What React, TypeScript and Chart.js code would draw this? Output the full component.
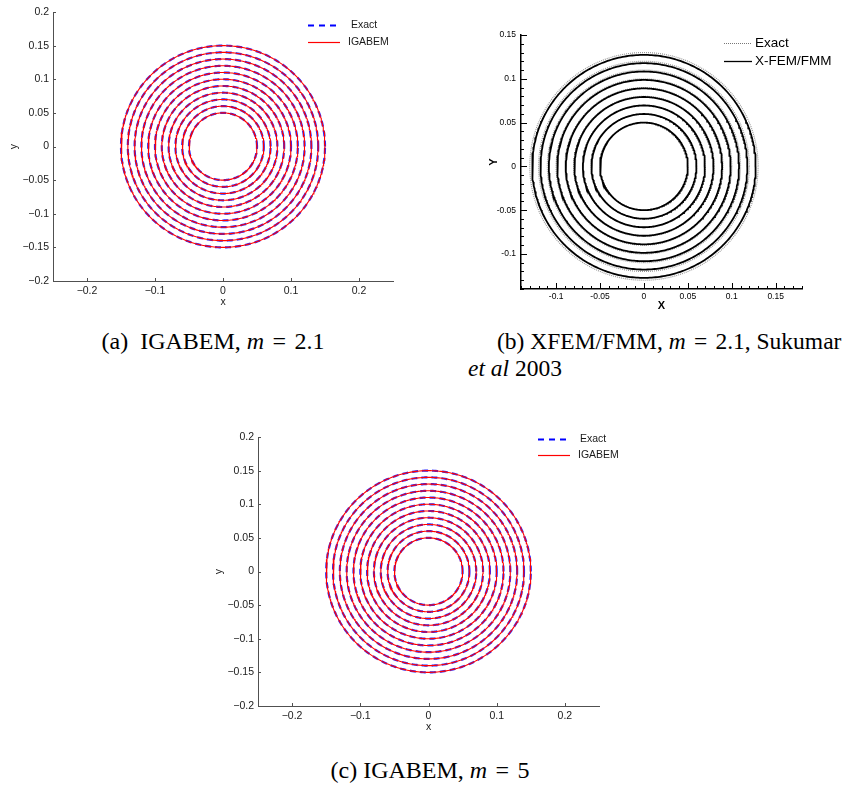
import React, { useEffect, useRef } from "react";
import { Chart, registerables } from "chart.js";

Chart.register(...registerables);

// ---------------- data ----------------
const radiiExactA = [0.05, 0.06, 0.07, 0.08, 0.09, 0.1, 0.11, 0.12, 0.13, 0.14, 0.15];
const radiiIgabemA = [0.05, 0.06, 0.07, 0.08, 0.09, 0.1, 0.11, 0.12, 0.13, 0.14, 0.15];
const radiiExactB = [0.05, 0.06, 0.07, 0.08, 0.09, 0.1, 0.11, 0.12, 0.13];
const radiiXfemB = [0.05, 0.0598, 0.0695, 0.0792, 0.089, 0.0987, 0.1083, 0.1178, 0.1273];
const radiiExactC = [0.05, 0.06, 0.07, 0.08, 0.09, 0.1, 0.11, 0.12, 0.13, 0.14, 0.15];
const radiiIgabemC = [0.05, 0.06, 0.07, 0.08, 0.09, 0.1, 0.11, 0.12, 0.13, 0.14, 0.15];

const ticksACX = [-0.2, -0.1, 0, 0.1, 0.2];
const ticksACY = [-0.2, -0.15, -0.1, -0.05, 0, 0.05, 0.1, 0.15, 0.2];
const ticksBX = [-0.1, -0.05, 0, 0.05, 0.1, 0.15];
const ticksBY = [-0.1, -0.05, 0, 0.05, 0.1, 0.15];
const minorBX = [-0.14, -0.13, -0.12, -0.11, -0.09, -0.08, -0.07, -0.06, -0.04, -0.03, -0.02, -0.01, 0.01, 0.02, 0.03, 0.04, 0.06, 0.07, 0.08, 0.09, 0.11, 0.12, 0.13, 0.14, 0.16, 0.17, 0.18];
const minorBY = [-0.14, -0.13, -0.12, -0.11, -0.09, -0.08, -0.07, -0.06, -0.04, -0.03, -0.02, -0.01, 0.01, 0.02, 0.03, 0.04, 0.06, 0.07, 0.08, 0.09, 0.11, 0.12, 0.13, 0.14];

const labelsAC = ["Exact", "IGABEM"];
const labelsB = ["Exact", "X-FEM/FMM"];

// ---------------- helpers ----------------
const ANGLE_STEPS = 360;
function circlePoints(radii: number[]) {
  const pts: any[] = [];
  radii.forEach((r) => {
    for (let k = 0; k <= ANGLE_STEPS; k++) {
      const t = (2 * Math.PI * k) / ANGLE_STEPS;
      pts.push({ x: r * Math.cos(t), y: r * Math.sin(t) });
    }
    pts.push({ x: null, y: null });
  });
  return pts;
}

const fmtMinus = (v: number) => {
  const s = String(Number(v.toFixed(3)));
  return s.replace("-", "\u2212");
};
const fmtHyphen = (v: number) => String(Number(v.toFixed(3)));

const inTicksPlugin = {
  id: "inTicks",
  afterDraw(chart: any, _args: any, opts: any) {
    const ctx = chart.ctx;
    const xs = chart.scales.x;
    const ys = chart.scales.y;
    const { left, bottom } = chart.chartArea;
    ctx.save();
    ctx.strokeStyle = opts.color;
    ctx.lineWidth = opts.width;
    ctx.beginPath();
    const drawX = (vals: number[], len: number) => {
      vals.forEach((v) => {
        const px = Math.round(xs.getPixelForValue(v)) + 0.5;
        ctx.moveTo(px, bottom);
        ctx.lineTo(px, bottom - len);
      });
    };
    const drawY = (vals: number[], len: number) => {
      vals.forEach((v) => {
        const py = Math.round(ys.getPixelForValue(v)) + 0.5;
        ctx.moveTo(left, py);
        ctx.lineTo(left + len, py);
      });
    };
    drawX(xs.ticks.map((t: any) => t.value), opts.major);
    drawY(ys.ticks.map((t: any) => t.value), opts.major);
    if (opts.minorX) drawX(opts.minorX, opts.minor);
    if (opts.minorY) drawY(opts.minorY, opts.minor);
    ctx.stroke();
    ctx.restore();
  },
};

const lineLegendPlugin = {
  id: "lineLegend",
  afterDraw(chart: any, _args: any, opts: any) {
    const ctx = chart.ctx;
    chart.data.datasets.forEach((ds: any, i: number) => {
      const y = opts.y + i * opts.dy;
      ctx.save();
      ctx.strokeStyle = opts.colors ? opts.colors[i] : ds.borderColor;
      ctx.lineWidth = opts.lineWidths ? opts.lineWidths[i] : ds.borderWidth;
      ctx.setLineDash(opts.dashes ? opts.dashes[i] : ds.borderDash || []);
      ctx.beginPath();
      ctx.moveTo(opts.x1, y + 0.5);
      ctx.lineTo(opts.x2, y + 0.5);
      ctx.stroke();
      ctx.setLineDash([]);
      ctx.fillStyle = opts.color;
      ctx.font = opts.font;
      ctx.textBaseline = "middle";
      ctx.textAlign = "left";
      ctx.fillText(ds.label, opts.tx[i], y);
      ctx.restore();
    });
  },
};

function makeAxis(o: any) {
  return {
    type: "linear",
    min: o.min,
    max: o.max,
    afterBuildTicks: (s: any) => {
      s.ticks = o.ticks.map((v: number) => ({ value: v }));
    },
    afterFit: (s: any) => {
      if (o.width !== undefined) s.width = o.width;
      if (o.height !== undefined) s.height = o.height;
    },
    grid: { display: false, drawTicks: false },
    border: { display: true, color: o.axisColor, width: o.axisWidth },
    ticks: {
      padding: o.tickPad,
      autoSkip: false,
      maxRotation: 0,
      color: o.labelColor,
      font: { family: "'Liberation Sans', Arial, sans-serif", size: o.fontSize },
      callback: (v: number) => o.fmt(v),
    },
    title: {
      display: true,
      text: o.title,
      color: o.labelColor,
      font: { family: "'Liberation Sans', Arial, sans-serif", size: o.titleSize, weight: o.titleWeight || "normal" },
      padding: o.titlePad,
    },
  };
}

function igabemConfig(exactR: number[], igaR: number[], legend: any) {
  return {
    type: "scatter",
    data: {
      datasets: [
        {
          label: labelsAC[0],
          data: circlePoints(exactR),
          showLine: true,
          spanGaps: false,
          borderColor: "#2a2aff",
          borderWidth: 2.2,
          borderDash: [6, 4],
          pointRadius: 0,
          order: 2,
        },
        {
          label: labelsAC[1],
          data: circlePoints(igaR),
          showLine: true,
          spanGaps: false,
          borderColor: "#ff0000",
          borderWidth: 1.1,
          pointRadius: 0,
          order: 1,
        },
      ],
    },
    options: {
      animation: false,
      responsive: false,
      layout: { padding: { top: 12, right: legend.padRight, left: 0, bottom: 0 } },
      scales: {
        x: makeAxis({
          min: -0.25, max: 0.25, ticks: ticksACX, height: 31, axisColor: "#505050", axisWidth: 1,
          tickPad: 4, labelColor: "#1a1a1a", fontSize: 10.5, fmt: fmtMinus, title: "x", titleSize: 10.5,
          titlePad: { top: 0, bottom: 4 },
        }),
        y: makeAxis({
          min: -0.2, max: 0.2, ticks: ticksACY, width: 53, axisColor: "#505050", axisWidth: 1,
          tickPad: 4, labelColor: "#1a1a1a", fontSize: 10.5, fmt: fmtMinus, title: "y", titleSize: 10.5,
          titlePad: { top: 8, bottom: 0 },
        }),
      },
      plugins: {
        legend: { display: false },
        tooltip: { enabled: false },
        inTicks: { color: "#505050", width: 1, major: 3, minor: 0 },
        lineLegend: {
          x1: legend.x1, x2: legend.x2, tx: legend.tx, y: legend.y, dy: legend.dy,
          font: "10.5px 'Liberation Sans', Arial, sans-serif", color: "#1a1a1a",
          colors: ["#0000ff", "#ff0000"],
          lineWidths: [2, 1.2], dashes: [[6, 5], []],
        },
      },
    },
    plugins: [inTicksPlugin, lineLegendPlugin],
  };
}

function xfemConfig() {
  return {
    type: "scatter",
    data: {
      datasets: [
        {
          label: labelsB[0],
          data: circlePoints(radiiExactB),
          showLine: true,
          spanGaps: false,
          borderColor: "#9a9a9a",
          borderWidth: 1.2,
          borderDash: [1, 1],
          pointRadius: 0,
          order: 2,
        },
        {
          label: labelsB[1],
          data: circlePoints(radiiXfemB),
          showLine: true,
          spanGaps: false,
          borderColor: "#000000",
          borderWidth: 1.8,
          pointRadius: 0,
          order: 1,
        },
      ],
    },
    options: {
      animation: false,
      responsive: false,
      layout: { padding: { top: 15, right: 53, left: 0, bottom: 0 } },
      scales: {
        x: makeAxis({
          min: -0.14, max: 0.18, ticks: ticksBX, height: 31, axisColor: "#000", axisWidth: 1.5,
          tickPad: 3, labelColor: "#000", fontSize: 8.5, fmt: fmtHyphen, title: "X", titleSize: 11,
          titleWeight: "bold", titlePad: { top: 0, bottom: 7 },
        }),
        y: makeAxis({
          min: -0.14, max: 0.15, ticks: ticksBY, width: 81, axisColor: "#000", axisWidth: 1.5,
          tickPad: 5, labelColor: "#000", fontSize: 8.5, fmt: fmtHyphen, title: "Y", titleSize: 11,
          titleWeight: "bold", titlePad: { top: 47, bottom: 0 },
        }),
      },
      plugins: {
        legend: { display: false },
        tooltip: { enabled: false },
        inTicks: { color: "#000", width: 1, major: 6, minor: 3, minorX: minorBX, minorY: minorBY },
        lineLegend: {
          x1: 284, x2: 312, tx: [315, 315], y: 23, dy: 18,
          font: "13.5px 'Liberation Sans', Arial, sans-serif", color: "#000",
          colors: ["#777777", "#000000"],
          lineWidths: [1, 1.3], dashes: [[1, 1], []],
        },
      },
    },
    plugins: [inTicksPlugin, lineLegendPlugin],
  };
}

function ChartBox(props: { left: number; top: number; width: number; height: number; make: () => any }) {
  const ref = useRef<HTMLCanvasElement | null>(null);
  useEffect(() => {
    if (!ref.current) return;
    const chart = new Chart(ref.current, props.make());
    return () => chart.destroy();
  }, []);
  return (
    <div style={{ position: "absolute", left: props.left, top: props.top, width: props.width, height: props.height }}>
      <canvas ref={ref} width={props.width} height={props.height} style={{ display: "block" }} />
    </div>
  );
}

const capStyle: React.CSSProperties = {
  position: "absolute",
  fontFamily: "'Liberation Serif', 'Times New Roman', serif",
  fontSize: 24,
  lineHeight: "26px",
  color: "#000",
  whiteSpace: "nowrap",
};

const eq = <span style={{ margin: "0 0.1em" }}>=</span>;

export default function App() {
  return (
    <div style={{ position: "absolute", left: 0, top: 0, width: 855, height: 787, background: "#fff", overflow: "hidden" }}>
      <ChartBox left={0} top={0} width={420} height={312}
        make={() => igabemConfig(radiiExactA, radiiIgabemA, { padRight: 27, x1: 308, x2: 340, tx: [351, 348], y: 25, dy: 17 })} />
      <ChartBox left={440} top={20} width={415} height={300} make={() => xfemConfig()} />
      <ChartBox left={205} top={425} width={430} height={312}
        make={() => igabemConfig(radiiExactC, radiiIgabemC, { padRight: 36, x1: 333, x2: 365, tx: [375, 373], y: 14, dy: 16 })} />

      <div style={{ ...capStyle, left: 0, width: 426, top: 328, textAlign: "center" }}>
        (a)&nbsp; IGABEM, <i>m</i> {eq} 2.1
      </div>
      <div style={{ ...capStyle, left: 497, top: 328, fontSize: 23.5 }}>
        (b) XFEM/FMM, <i>m</i> {eq} 2.1, Sukumar
      </div>
      <div style={{ ...capStyle, left: 468, top: 355, fontSize: 23.5 }}>
        <i>et al</i> 2003
      </div>
      <div style={{ ...capStyle, left: 230, width: 400, top: 757, textAlign: "center" }}>
        (c) IGABEM, <i>m</i> {eq} 5
      </div>
    </div>
  );
}
